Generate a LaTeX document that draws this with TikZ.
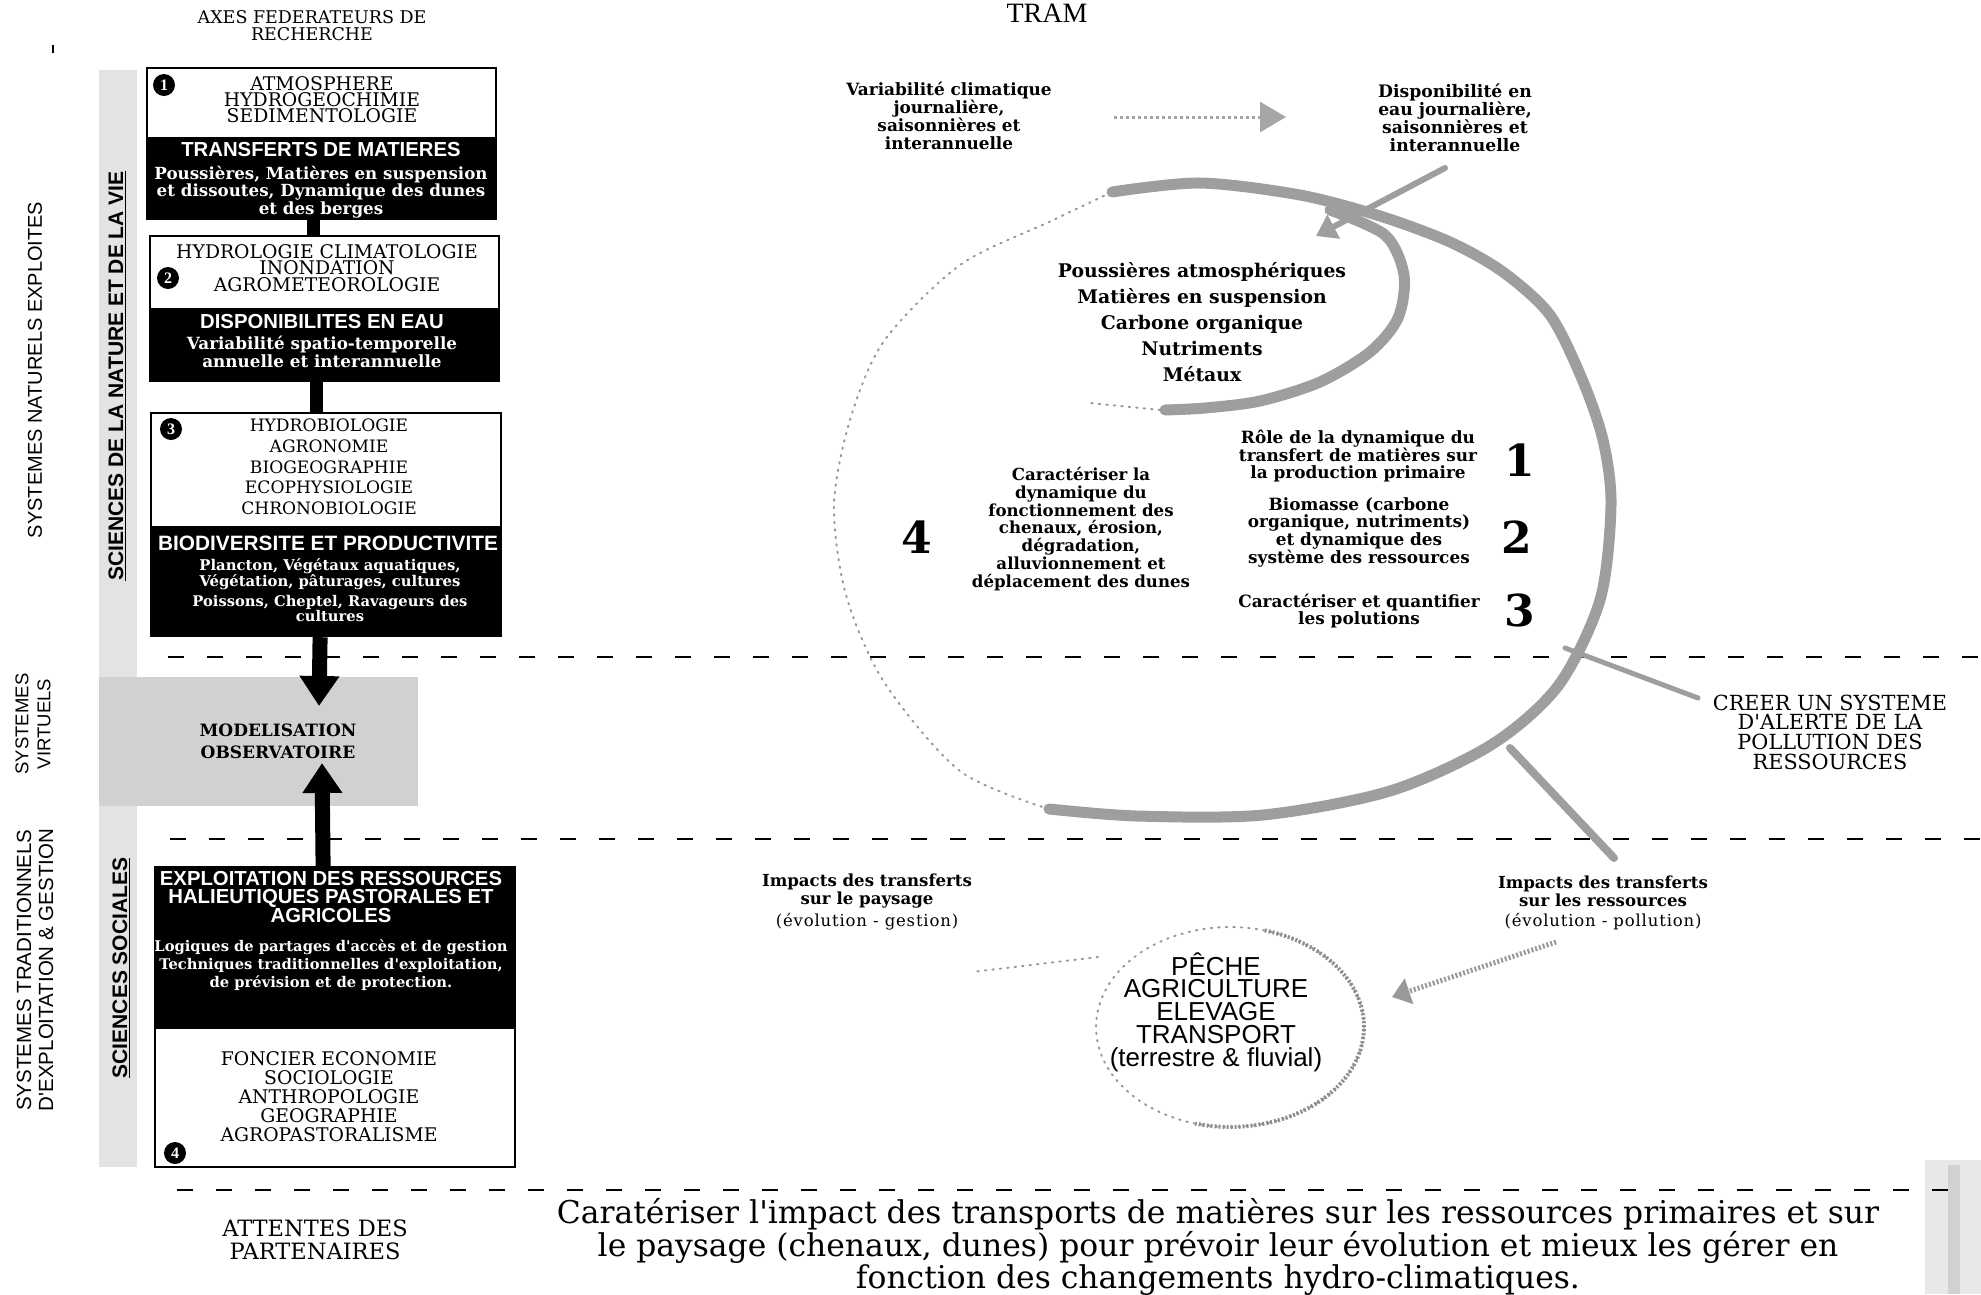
\documentclass[tikz,border=0pt]{standalone}
\usepackage{fontspec}
\usepackage{graphicx}
\setmainfont{DejaVu Serif}
\newfontfamily\dvserif{DejaVu Serif}
\newfontfamily\dvspaced[LetterSpace=5]{DejaVu Serif}
\newfontfamily\libsans{Liberation Sans}
\newfontfamily\libserif{Liberation Serif}
\usetikzlibrary{arrows.meta}
\newcommand{\fsz}[2]{\fontsize{#1}{#2}\selectfont}

\begin{document}
\begin{tikzpicture}[x=1pt,y=-1pt,
  lbl/.style={inner sep=0pt, align=center},
  capstext/.style={lbl, font=\dvserif\fsz{18.8}{16}},
  headtext/.style={lbl, text=white, font=\libsans\bfseries\fsz{20.3}{17.5}},
  dettext/.style={lbl, text=white, font=\dvserif\bfseries\fsz{16.7}{15.5}},
  midtext/.style={lbl, font=\dvserif\bfseries\fsz{16.9}{17.7}},
  subtext/.style={lbl, font=\dvspaced\fsz{16.5}{16}},
  sidetext/.style={lbl, rotate=90, font=\libsans\fsz{20}{22}},
  bandtext/.style={lbl, rotate=90, font=\libsans\bfseries\fsz{21}{22}},
  whitebox/.style={draw=black, line width=2.2pt, fill=white, inner sep=0pt, anchor=north west},
  blackbox/.style={draw=black, line width=2.2pt, fill=black, inner sep=0pt, anchor=north west},
  linkbar/.style={line width=13pt},
  bigarrow/.style={line width=15pt, -{Triangle[length=30pt,width=38pt]}},
  separator/.style={line width=2.6pt, dash pattern=on 16pt off 23pt},
  grain/.style={fill=black!11},
  flow/.style={draw=black!38, line width=11pt, line cap=round},
  faint/.style={draw=black!40, line width=2pt, dash pattern=on 1.5pt off 6pt, line cap=round},
  cnum/.style={circle, fill=black, text=white, inner sep=0pt, minimum size=22pt, font=\libserif\bfseries\fsz{16}{16}},
  bignum/.style={lbl, font=\dvserif\bfseries\fsz{44}{44}},
]
\useasboundingbox (0,0) rectangle (1981,1294);

% ---------- shaded bands of the disciplines ----------
\fill[grain] (99,70) rectangle (137,1167);
\fill[black!18] (99,677) rectangle (418,806);
\fill[black!9] (1925,1160) rectangle (1981,1294);
\fill[black!18] (1948,1165) rectangle (1960,1294);
\draw[line width=1.5pt] (53,45) -- (53,53);

% ---------- separators ----------
\coordinate (s1a) at (168,657);  \coordinate (s1b) at (1981,657);
\coordinate (s2a) at (170,839);  \coordinate (s2b) at (1981,839);
\coordinate (s3a) at (177,1190); \coordinate (s3b) at (1950,1190);
\draw[separator] (s1a) -- (s1b);
\draw[separator] (s2a) -- (s2b);
\draw[separator] (s3a) -- (s3b);

% ---------- side labels ----------
\node[capstext, font=\dvserif\fsz{17.5}{17}] (axes) at (312,26) {AXES FEDERATEURS DE\\RECHERCHE};
\node[sidetext] (sysnat) at (35,370) {SYSTEMES NATURELS EXPLOITES};
\node[sidetext, font=\libsans\fsz{18.5}{22}] (sysvirt) at (33,724) {SYSTEMES\\VIRTUELS};
\node[sidetext, font=\libsans\fsz{20.5}{22}] (systrad) at (35,970) {SYSTEMES TRADITIONNELS\\D'EXPLOITATION \& GESTION};
\node[bandtext] (scinat) at (117,376) {\underline{SCIENCES DE LA NATURE ET DE LA VIE}};
\node[bandtext] (scisoc) at (121,968) {\underline{SCIENCES SOCIALES}};
\node[capstext, font=\dvserif\fsz{22.5}{23}] (partners) at (315,1240) {ATTENTES DES\\PARTENAIRES};

% ---------- research axes ----------
\node[whitebox, minimum width=349pt, minimum height=70pt] (b1w) at (146,67) {};
\node[blackbox, minimum width=349pt, minimum height=81pt] (b1k) at (146,137) {};
\node[whitebox, minimum width=349pt, minimum height=73pt] (b2w) at (149,235) {};
\node[blackbox, minimum width=349pt, minimum height=72pt] (b2k) at (149,308) {};
\node[whitebox, minimum width=350pt, minimum height=114pt] (b3w) at (150,412) {};
\node[blackbox, minimum width=350pt, minimum height=109pt] (b3k) at (150,526) {};
\node[blackbox, minimum width=360pt, minimum height=161pt] (b4k) at (154,866) {};
\node[whitebox, minimum width=360pt, minimum height=139pt] (b4w) at (154,1027) {};

\draw[linkbar] ([xshift=-8pt]b1k.south) -- ([xshift=-8pt]b1k.south |- b2w.north);
\draw[linkbar] ([xshift=-8pt]b2k.south) -- ([xshift=-8pt]b2k.south |- b3w.north);

\node[cnum] (c1) at (164,85) {1};
\node[capstext] (t1a) at (322,100) {ATMOSPHERE\\HYDROGEOCHIMIE\\SEDIMENTOLOGIE};
\node[headtext] (t1b) at (321,150) {TRANSFERTS DE MATIERES};
\node[dettext] (t1c) at (321,192) {Poussières, Matières en suspension\\et dissoutes, Dynamique des dunes\\et des berges};

\node[cnum] (c2) at (168,278) {2};
\node[capstext, font=\dvserif\fsz{18.8}{16.5}] (t2a) at (327,268) {HYDROLOGIE CLIMATOLOGIE\\INONDATION\\AGROMETEOROLOGIE};
\node[headtext] (t2b) at (322,322) {DISPONIBILITES EN EAU};
\node[dettext, font=\dvserif\bfseries\fsz{16.8}{15}] (t2c) at (322,352) {Variabilité spatio-temporelle\\annuelle et interannuelle};

\node[cnum] (c3) at (171,429) {3};
\node[capstext, font=\dvserif\fsz{17.1}{20.7}] (t3a) at (329,467) {HYDROBIOLOGIE\\AGRONOMIE\\BIOGEOGRAPHIE\\ECOPHYSIOLOGIE\\CHRONOBIOLOGIE};
\node[headtext, font=\libsans\bfseries\fsz{20.8}{17.5}] (t3b) at (328,543) {BIODIVERSITE ET PRODUCTIVITE};
\node[dettext, font=\dvserif\bfseries\fsz{14.8}{14}] (t3c) at (330,574) {Plancton, Végétaux aquatiques,\\Végétation, pâturages, cultures};
\node[dettext, font=\dvserif\bfseries\fsz{14.7}{15}] (t3d) at (330,609) {Poissons, Cheptel, Ravageurs des\\cultures};

\node[headtext] (t4a) at (331,897) {EXPLOITATION DES RESSOURCES\\HALIEUTIQUES PASTORALES ET\\AGRICOLES};
\node[dettext, font=\dvserif\bfseries\fsz{14.7}{18}] (t4b) at (331,965) {Logiques de partages d'accès et de gestion\\Techniques traditionnelles d'exploitation,\\de prévision et de protection.};
\node[capstext, font=\dvserif\fsz{18.8}{19}] (t4c) at (329,1097) {FONCIER ECONOMIE\\SOCIOLOGIE\\ANTHROPOLOGIE\\GEOGRAPHIE\\AGROPASTORALISME};
\node[cnum] (c4) at (175,1153) {4};

% ---------- modelling ----------
\node[lbl, font=\dvserif\bfseries\fsz{17}{22}] (model) at (278,741) {MODELISATION\\OBSERVATOIRE};
\coordinate (mtop) at (319,706);
\coordinate (mbot) at (322,763);
\draw[bigarrow] ([xshift=-6pt]b3k.south) -- (mtop);
\draw[bigarrow] ([xshift=-12pt]b4k.north) -- (mbot);

% ---------- flows of matter ----------
\node[lbl, anchor=base, font=\libserif\fsz{28}{28}] (tram) at (1047,22) {TRAM};
\node[midtext, font=\dvserif\bfseries\fsz{16.9}{17.8}] (varia) at (949,116) {Variabilité climatique\\journalière,\\saisonnières et\\interannuelle};
\node[midtext, font=\dvserif\bfseries\fsz{17.2}{18}] (dispo) at (1455,118) {Disponibilité en\\eau journalière,\\saisonnières et\\interannuelle};
\draw[draw=black!35, line width=3pt, dash pattern=on 3pt off 3pt, shorten <=62pt, shorten >=92pt, -{Triangle[length=26pt,width=30pt]}] (varia.east |- 0,117) -- (dispo.west |- 0,117);

% main loop: sparse left half, heavy right half
\draw[faint] plot[smooth] coordinates {(1049,809) (960,771) (884,682) (846,595) (834,505) (850,420) (884,341) (960,265) (1049,222) (1112,192)};
\draw[flow] plot[smooth] coordinates {(1112,192) (1200,183) (1300,195) (1380,216) (1450,242) (1503,272) (1550,315) (1582,379) (1603,440) (1611,505) (1600,600) (1558,686) (1491,745) (1390,791) (1263,815) (1137,816) (1049,809)};
% inner loop
\draw[flow] plot[smooth] coordinates {(1330,210) (1385,235) (1404,275) (1398,318) (1370,352) (1320,382) (1260,401) (1205,408) (1165,410)};
\draw[faint] (1160,410) -- (1090,403);
\coordinate (inA) at (1445,168);
\coordinate (inB) at (1316,236);
\draw[flow, line width=6pt, -{Triangle[length=20pt,width=26pt]}] (inA) -- (inB);

\node[midtext, font=\dvserif\bfseries\fsz{18.8}{26}] (matter) at (1202,322) {Poussières atmosphériques\\Matières en suspension\\Carbone organique\\Nutriments\\Métaux};
\node[midtext] (goal1) at (1358,456) {Rôle de la dynamique du\\transfert de matières sur\\la production primaire};
\node[midtext] (goal2) at (1359,532) {Biomasse (carbone\\organique, nutriments)\\et dynamique des\\système des ressources};
\node[midtext] (goal3) at (1359,611) {Caractériser et quantifier\\les polutions};
\node[midtext, font=\dvserif\bfseries\fsz{16.6}{17.8}] (goal4) at (1081,529) {Caractériser la\\dynamique du\\fonctionnement des\\chenaux, érosion,\\dégradation,\\alluvionnement et\\déplacement des dunes};
\node[bignum] (n1) at (1520,460) {1};
\node[bignum] (n2) at (1517,537) {2};
\node[bignum] (n3) at (1520,610) {3};
\node[bignum] (n4) at (917,537) {4};

% alert branch
\node[lbl, font=\dvserif\fsz{20.8}{19.7}] (alert) at (1830,732) {CREER UN SYSTEME\\D'ALERTE DE LA\\POLLUTION DES\\RESSOURCES};
\coordinate (alA) at (1565,648);
\coordinate (alB) at (1698,698);
\draw[flow, line width=5pt] (alA) -- (alB);

% impacts
\coordinate (irA) at (1510,748);
\coordinate (irB) at (1614,858);
\draw[flow, line width=8pt] (irA) -- (irB);
\node[midtext, font=\dvserif\bfseries\fsz{16.6}{18}] (imppay) at (867,891) {Impacts des transferts\\sur le paysage};
\node[subtext] (imppay2) at (867,922) {(évolution - gestion)};
\node[midtext, font=\dvserif\bfseries\fsz{16.6}{18}] (impres) at (1603,891) {Impacts des transferts\\sur les ressources};
\node[subtext] (impres2) at (1603,922) {(évolution - pollution)};

% activities
\node[lbl, font=\libsans\fsz{26}{22.8}] (activ) at (1216,1012) {PÊCHE\\AGRICULTURE\\ELEVAGE\\TRANSPORT\\(terrestre \& fluvial)};
\draw[faint] plot[domain=0:360, samples=80] ({1230+134*cos(\x)},{1027-100*sin(\x)});
\draw[draw=black!45, line width=4pt, dash pattern=on 2pt off 2pt] plot[domain=75:-105, samples=50] ({1230+134*cos(\x)},{1027-100*sin(\x)});
\coordinate (acA) at (1556,942);
\coordinate (acB) at (1392,997);
\draw[draw=black!40, line width=5pt, dash pattern=on 2pt off 2pt, -{Triangle[length=18pt,width=26pt]}] (acA) -- (acB);
\coordinate (apA) at (1098,957);
\coordinate (apB) at (972,972);
\draw[faint] (apA) -- (apB);

% ---------- expectations ----------
\node[lbl, font=\dvserif\fsz{31.4}{29.5}] (expect) at (1218,1247) {Caratériser l'impact des transports de matières sur les ressources primaires et sur\\le paysage (chenaux, dunes) pour prévoir leur évolution et mieux les gérer en\\fonction des changements hydro-climatiques.};
\end{tikzpicture}
\end{document}
